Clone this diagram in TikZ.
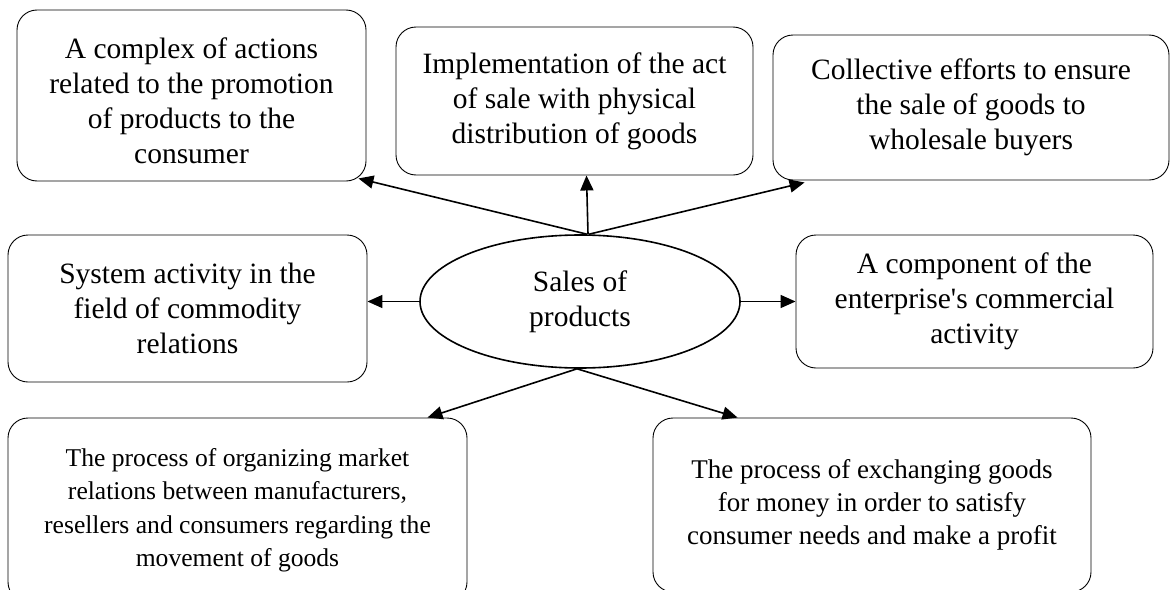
\documentclass[tikz,border=0pt]{standalone}
\usepackage{fontspec}
\setmainfont[Ligatures=TeXOff]{Liberation Serif}
\usetikzlibrary{arrows.meta,shapes.geometric}
\begin{document}
\begin{tikzpicture}[x=1pt,y=-1pt,
  box/.style={draw, line width=0.9pt, rounded corners=20pt, inner sep=0pt, align=center,
    font=\fontsize{29.5}{35}\selectfont},
  ell/.style={draw, ellipse, line width=1.6pt, inner sep=0pt, align=center,
    font=\fontsize{29.5}{35}\selectfont},
  arr/.style={line width=1.6pt, -{Triangle[length=15pt,width=13pt]}}]
\clip (0,0) rectangle (1172,589);
\fill[white] (0,0) rectangle (1172,589);
\node[box, minimum width=349pt, minimum height=171pt] (b1) at (191.5,95.5)
  {\rule{0pt}{32pt}A complex of actions\\related to the promotion\\of products to the\\consumer};
\node[box, minimum width=357pt, minimum height=148pt] (b2) at (574.5,101)
  {Implementation of the act\\of sale with physical\\distribution of goods};
\node[box, minimum width=396pt, minimum height=145pt] (b3) at (971,107.5)
  {Collective efforts to ensure\\the sale of goods to\\wholesale buyers};
\node[box, minimum width=359pt, minimum height=147pt] (b4) at (187.5,308.5)
  {System activity in the\\field of commodity\\relations};
\node[box, minimum width=357pt, minimum height=133pt] (b5) at (974.5,301.5)
  {A component of the\\enterprise's commercial\\activity};
\node[box, minimum width=459pt, minimum height=184pt, font=\fontsize{25.6}{33.5}\selectfont] (b6) at (237.5,510)
  {The process of organizing market\\relations between manufacturers,\\resellers and consumers regarding the\\movement of goods};
\node[box, minimum width=438pt, minimum height=174pt, font=\fontsize{27}{33}\selectfont] (b7) at (872,505)
  {The process of exchanging goods\\for money in order to satisfy\\consumer needs and make a profit};
\node[ell, minimum width=320pt, minimum height=133pt] (c) at (580,301.5)
  {Sales of\\products};
\draw[arr] ([xshift=7pt]c.north) -- ([xshift=-8pt,yshift=3pt]b1.south east);
\draw[arr] ([xshift=8pt]c.north) -- ([xshift=12pt]b2.south);
\draw[arr] ([xshift=9pt]c.north) -- ([xshift=32pt,yshift=-2pt]b3.south west);
\draw[arr] (c.west) -- (b4.east |- c.west);
\draw[arr] (c.east) -- (b5.west |- c.east);
\draw[arr] ([xshift=-3pt]c.south) -- ([xshift=190pt]b6.north);
\draw[arr] ([xshift=-3pt]c.south) -- ([xshift=85pt]b7.north west);
\end{tikzpicture}
\end{document}
